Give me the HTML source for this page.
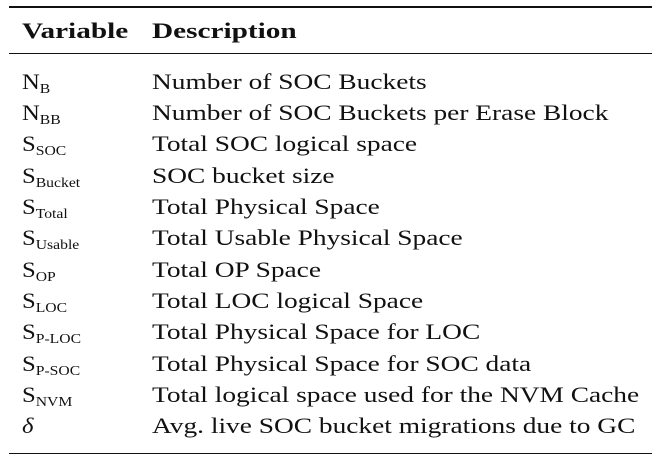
<!DOCTYPE html>
<html><head><style>
body{margin:0;width:661px;height:467px;background:#fff;position:relative;font-family:"Liberation Serif",serif;color:#111;overflow:hidden}
.r{position:absolute;left:9px;width:643px;background:#111}
.t{position:absolute;font-size:22px;line-height:24px;white-space:nowrap;transform:scaleX(1.245);transform-origin:left center}
.h{transform:scaleX(1.33)}
.v{left:22px;transform:scaleX(1.12)}.d{left:152px}
sub{font-size:14px;vertical-align:-4px;line-height:0}
b{font-weight:bold}
</style></head><body>
<div class="r" style="top:6px;height:2px"></div>
<div class="r" style="top:53px;height:1.3px"></div>
<div class="r" style="top:453px;height:1.3px"></div>
<div class="t v h" style="top:19px;transform:scaleX(1.33)"><b>Variable</b></div>
<div class="t d h" style="top:19px"><b>Description</b></div>
<div class="t v" style="top:70px">N<sub>B</sub></div><div class="t d" style="top:70px">Number of SOC Buckets</div>
<div class="t v" style="top:101px">N<sub>BB</sub></div><div class="t d" style="top:101px">Number of SOC Buckets per Erase Block</div>
<div class="t v" style="top:132px">S<sub>SOC</sub></div><div class="t d" style="top:132px">Total SOC logical space</div>
<div class="t v" style="top:164px">S<sub>Bucket</sub></div><div class="t d" style="top:164px">SOC bucket size</div>
<div class="t v" style="top:195px">S<sub>Total</sub></div><div class="t d" style="top:195px">Total Physical Space</div>
<div class="t v" style="top:226px">S<sub>Usable</sub></div><div class="t d" style="top:226px">Total Usable Physical Space</div>
<div class="t v" style="top:258px">S<sub>OP</sub></div><div class="t d" style="top:258px">Total OP Space</div>
<div class="t v" style="top:289px">S<sub>LOC</sub></div><div class="t d" style="top:289px">Total LOC logical Space</div>
<div class="t v" style="top:320px">S<sub>P-LOC</sub></div><div class="t d" style="top:320px">Total Physical Space for LOC</div>
<div class="t v" style="top:352px">S<sub>P-SOC</sub></div><div class="t d" style="top:352px">Total Physical Space for SOC data</div>
<div class="t v" style="top:383px">S<sub>NVM</sub></div><div class="t d" style="top:383px">Total logical space used for the NVM Cache</div>
<div class="t v" style="top:414px"><i>δ</i></div><div class="t d" style="top:414px">Avg. live SOC bucket migrations due to GC</div>
</body></html>
